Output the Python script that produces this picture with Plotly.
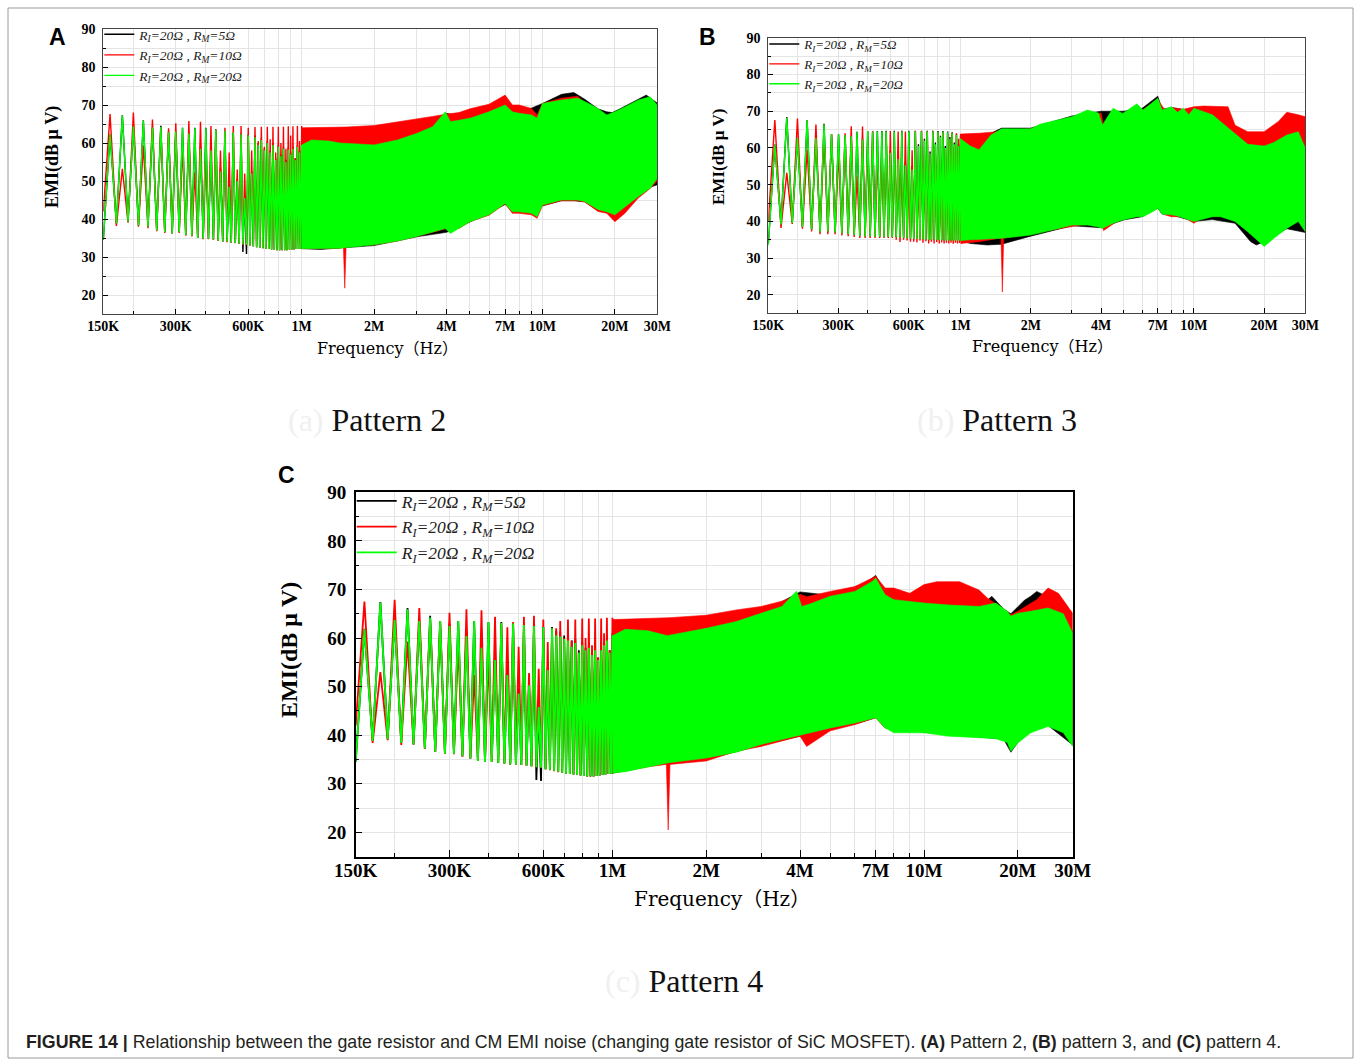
import math
import plotly.graph_objects as go

W, H = 1356, 1062

# ---------------- data (frequencies in kHz / Hz, levels in dBuV) ----------------
X_TICK_VALS = [150e3, 300e3, 600e3, 1e6, 2e6, 4e6, 7e6, 10e6, 20e6, 30e6]
X_TICK_TEXT = ["150K", "300K", "600K", "1M", "2M", "4M", "7M", "10M", "20M", "30M"]
X_MINOR = [200e3, 400e3, 500e3, 700e3, 800e3, 900e3, 3e6, 5e6, 6e6, 8e6, 9e6]
Y_TICKS = [20, 30, 40, 50, 60, 70, 80, 90]
Y_MINOR = [25, 35, 45, 55, 65, 75, 85]

SERIES_NAMES = ["R<sub>I</sub>=20Ω , R<sub>M</sub>=5Ω",
                "R<sub>I</sub>=20Ω , R<sub>M</sub>=10Ω",
                "R<sub>I</sub>=20Ω , R<sub>M</sub>=20Ω"]
SERIES_COLORS = ["#000000", "#ff0000", "#00ff00"]

# resolvable low-frequency harmonics (kHz): peaks and the troughs between them
PEAK_KHZ = [160, 180, 200, 220, 240, 260, 280, 300, 320, 340, 360, 380, 400, 420, 440,
            460, 480, 500, 520, 540, 560, 580, 600, 620, 640, 660, 680, 700, 720, 740,
            760, 780, 800, 820, 840, 860, 880, 900, 920, 940, 960, 980, 1000]
TROUGH_KHZ = [170, 190, 210, 230, 250, 270, 290, 310, 330, 350, 370, 390, 410, 430, 450,
              470, 490, 510, 530, 550, 570, 590, 610, 630, 650, 670, 690, 710, 730, 750,
              770, 790, 810, 830, 850, 870, 890, 910, 930, 950, 970, 990, 1010]

# ---- Pattern 2 (A) ----
A_K_START, A_R_START, A_G_START = 34.5, 42.0, 34.5
A_K_PEAK = [62.3, 67.3, 64.3, 66.0, 64.1, 64.5, 63.0, 63.0, 64.0, 62.8, 64.0, 59.0, 64.0, 58.5, 63.6,
            53.5, 63.2, 49.5, 62.8, 50.5, 62.5, 46.0, 62.3,
            52.5, 62.0, 60.0, 61.3, 58.5, 60.5, 58.0, 60.0, 56.0, 59.5, 57.0, 59.0, 55.5, 58.8,
            57.5, 59.0, 56.0, 59.5, 58.0, 60.0]
A_R_PEAK = [67.6, 53.2, 68.0, 59.3, 66.2, 64.0, 63.9, 65.2, 59.0, 65.8, 52.3, 65.6, 57.0, 64.5, 63.5,
            58.0, 64.0, 57.5, 64.5, 53.0, 64.5, 52.0, 64.0,
            58.0, 64.2, 60.5, 64.3, 59.0, 64.3, 61.0, 64.3, 57.5, 64.3, 60.0, 64.3, 58.5, 64.4,
            62.0, 64.4, 56.0, 64.5, 60.5, 64.5]
A_G_PEAK = [62.3, 67.2, 64.3, 65.9, 64.1, 64.2, 62.8, 63.0, 64.0, 62.5, 63.9, 58.5, 63.9, 58.0, 63.5,
            52.5, 63.2, 48.5, 62.8, 50.0, 62.3, 45.5, 62.0,
            52.0, 61.5, 59.5, 60.8, 58.0, 60.0, 57.5, 59.5, 55.5, 59.0, 56.5, 58.5, 55.0, 58.2,
            57.0, 58.5, 55.5, 59.0, 57.5, 59.5]
A_K_TROUGH = [38.8, 39.3, 38.3, 38.0, 37.0, 36.5, 36.2, 36.5, 35.8, 35.5, 35.0, 34.8, 34.8, 34.6, 34.3,
              34.0, 34.0, 33.8, 33.7, 33.5, 31.3, 30.8, 33.0,
              32.8, 32.6, 32.4, 32.3, 32.2, 32.1, 32.0, 31.9, 31.8, 31.8, 31.8, 31.8, 31.8, 31.9,
              32.0, 32.0, 32.1, 32.1, 32.2, 32.2]
A_R_TROUGH = [38.2, 39.0, 38.0, 37.6, 36.8, 36.3, 36.2, 36.3, 35.6, 35.4, 35.0, 34.7, 34.7, 34.5, 34.2,
              34.0, 33.9, 33.7, 33.6, 33.4, 33.2, 33.1, 33.0,
              32.8, 32.6, 32.4, 32.3, 32.2, 32.1, 32.0, 31.9, 31.8, 31.8, 31.8, 31.8, 31.8, 31.9,
              32.0, 32.0, 32.1, 32.1, 32.2, 32.2]
A_G_TROUGH = [38.8, 39.3, 38.3, 38.0, 37.0, 36.5, 36.2, 36.5, 35.8, 35.5, 35.0, 34.8, 34.8, 34.6, 34.3,
              34.0, 34.0, 33.8, 33.7, 33.5, 33.3, 33.2, 33.0,
              32.8, 32.6, 32.4, 32.3, 32.2, 32.1, 32.0, 31.9, 31.8, 31.8, 31.8, 31.8, 31.8, 31.9,
              32.0, 32.0, 32.1, 32.1, 32.2, 32.2]
# dense region (above 1 MHz): upper and lower envelopes
A_K_F = [1e6, 1.2e6, 1.44e6, 2e6, 3e6, 4e6, 5e6, 7e6, 8e6, 10e6, 12e6, 13.5e6, 15e6, 17e6, 18.5e6,
         19.5e6, 21e6, 25e6, 27e6, 30e6]
A_K_UP = [60.0, 61.0, 61.5, 59.5, 62.5, 67.8, 66.5, 70.5, 67.8, 70.4, 72.8, 73.3, 71.5, 69.0, 68.2,
          68.0, 69.0, 71.6, 72.6, 70.5]
A_K_LO = [32.2, 32.0, 32.3, 33.0, 35.3, 36.5, 39.2, 43.8, 41.8, 43.5, 44.8, 44.8, 44.5, 42.3, 41.8,
          41.0, 43.0, 45.8, 48.0, 49.0]
A_R_F = [1e6, 1.44e6, 1.49e6, 1.51e6, 1.53e6, 2e6, 2.5e6, 3e6, 3.5e6, 4e6, 4.5e6, 5e6, 6e6, 7e6,
         7.5e6, 8e6, 9e6, 9.5e6, 10e6, 12e6, 14e6, 15e6, 17e6, 18.5e6, 20e6, 22e6, 25e6, 28e6, 30e6]
A_R_UP = [64.0, 64.2, 64.2, 64.2, 64.2, 64.6, 65.5, 66.2, 67.0, 67.6, 68.0, 69.0, 70.2, 72.6,
          70.0, 70.0, 69.1, 67.4, 70.4, 71.8, 72.3, 70.5, 68.8, 67.0, 67.8, 69.0, 71.0, 71.8, 69.5]
A_R_LO = [32.2, 32.3, 33.0, 21.8, 33.0, 33.2, 34.2, 35.4, 36.5, 37.5, 37.5, 39.3, 41.0, 44.0,
          41.5, 41.5, 41.1, 40.2, 43.5, 44.8, 44.8, 44.5, 42.0, 41.5, 39.3, 41.5, 45.5, 48.0, 50.0]
A_G_F = [1e6, 1.1e6, 1.3e6, 1.44e6, 2e6, 2.5e6, 3e6, 3.5e6, 3.95e6, 4.15e6, 5e6, 6e6, 7e6, 7.5e6,
         8e6, 9e6, 9.5e6, 10e6, 12e6, 14e6, 15e6, 17e6, 18.5e6, 20e6, 22e6, 25e6, 28e6, 30e6]
A_G_UP = [59.5, 60.8, 60.5, 60.0, 59.5, 60.8, 62.5, 64.3, 68.2, 65.6, 66.5, 68.2, 70.0, 68.2,
          67.8, 67.4, 66.5, 70.4, 71.3, 71.8, 70.9, 69.1, 67.4, 68.2, 69.5, 71.3, 72.2, 70.0]
A_G_LO = [32.2, 32.2, 32.3, 32.3, 33.2, 34.2, 35.4, 36.5, 37.5, 36.2, 39.3, 41.1, 44.1, 41.9,
          41.9, 41.5, 40.6, 43.7, 45.0, 45.0, 44.6, 42.5, 41.9, 41.1, 43.2, 45.9, 48.1, 50.7]

# ---- Pattern 3 (B) ----
B_K_START, B_R_START, B_G_START = 34.0, 40.0, 33.5
B_K_PEAK = [60.9, 68.4, 62.7, 67.5, 62.7, 66.6, 63.7, 63.7, 63.5, 63.2, 64.4, 62.5, 64.6, 64.5, 64.6,
            64.6, 64.7, 59.4, 64.7, 57.8, 64.7, 56.2, 64.7,
            55.0, 64.7, 61.0, 64.7, 62.5, 64.7, 59.0, 64.7, 61.5, 64.6, 63.3, 64.6, 60.5, 64.5,
            63.0, 64.3, 61.5, 63.8, 61.0, 63.3]
B_R_PEAK = [67.6, 53.2, 68.0, 59.4, 66.4, 63.2, 63.7, 58.9, 64.0, 65.9, 52.3, 65.8, 61.8, 64.6, 59.0,
            59.6, 63.0, 64.6, 60.0, 64.5, 56.0, 64.5, 53.0,
            59.4, 64.6, 52.5, 64.6, 58.0, 64.5, 55.0, 64.5, 60.5, 64.3, 57.0, 64.2, 59.5, 64.0,
            62.0, 64.0, 60.0, 64.0, 62.5, 63.8]
B_G_PEAK = [60.8, 68.2, 62.7, 67.5, 62.7, 66.4, 63.7, 63.7, 63.5, 63.2, 64.4, 62.3, 64.6, 64.4, 64.5,
            64.5, 64.5, 58.7, 64.5, 56.9, 64.5, 55.3, 64.5,
            54.1, 64.5, 60.5, 64.5, 62.0, 64.5, 58.5, 64.5, 61.0, 64.4, 63.0, 64.4, 60.0, 64.3,
            62.5, 64.0, 61.0, 63.5, 60.5, 62.5]
B_K_TROUGH = [39.2, 39.6, 38.5, 37.8, 37.0, 37.3, 37.0, 36.8, 36.5, 36.3, 36.0, 35.9, 35.9, 35.8, 35.8,
              35.8, 35.8, 35.8, 35.7, 35.6, 35.5, 35.4, 35.3,
              35.3, 35.2, 35.2, 35.1, 35.1, 35.0, 35.0, 35.0, 35.0, 34.9, 34.9, 34.8, 34.8, 34.8,
              34.8, 34.8, 34.8, 34.8, 34.8, 34.8]
B_R_TROUGH = [38.2, 39.3, 38.0, 37.3, 36.5, 36.5, 36.5, 36.2, 36.0, 35.8, 35.5, 35.5, 35.5, 35.5, 35.5,
              35.5, 35.5, 35.5, 35.0, 34.4, 35.0, 34.8, 34.5,
              34.5, 34.3, 34.8, 34.2, 34.6, 34.0, 34.5, 34.0, 34.4, 34.0, 34.3, 34.0, 34.2, 34.0,
              34.2, 33.9, 34.2, 34.0, 34.1, 34.0]
B_G_TROUGH = [39.2, 39.6, 38.5, 37.8, 37.0, 37.3, 37.0, 36.8, 36.5, 36.3, 36.0, 35.9, 35.9, 35.8, 35.8,
              35.8, 35.8, 35.8, 35.7, 35.6, 35.5, 35.4, 35.3,
              35.3, 35.2, 35.2, 35.1, 35.1, 35.0, 35.0, 35.0, 35.0, 34.9, 34.9, 34.8, 34.8, 34.8,
              34.8, 34.8, 34.8, 34.8, 34.8, 34.8]
B_K_F = [1e6, 1.1e6, 1.2e6, 1.3e6, 1.5e6, 2e6, 3e6, 4e6, 5e6, 6e6, 7e6, 7.3e6, 8e6, 10e6, 12e6,
         15e6, 16.5e6, 17.5e6, 18.5e6, 20e6, 25e6, 30e6]
B_K_UP = [63.3, 62.5, 61.5, 63.5, 65.4, 65.4, 68.7, 70.0, 70.0, 70.8, 74.1, 70.5, 71.0, 70.0, 68.5,
          65.5, 62.0, 60.0, 59.0, 59.5, 63.5, 59.5]
B_K_LO = [34.8, 34.0, 33.8, 33.6, 33.8, 36.0, 38.8, 38.3, 40.4, 41.3, 43.6, 42.0, 41.8, 40.0, 40.5,
          39.5, 36.5, 34.5, 33.6, 34.5, 38.0, 37.0]
B_R_F = [1e6, 1.2e6, 1.49e6, 1.51e6, 1.53e6, 2e6, 3e6, 4e6, 4.1e6, 5e6, 6e6, 7e6, 7.5e6, 8e6, 9e6,
         10e6, 11e6, 14e6, 15e6, 17e6, 20e6, 23e6, 25e6, 28e6, 30e6]
B_R_UP = [63.8, 64.0, 64.5, 64.5, 64.5, 65.2, 68.0, 69.5, 66.0, 69.4, 70.3, 73.2, 70.3, 71.0, 70.5,
          71.2, 71.4, 71.2, 66.2, 64.4, 64.4, 67.2, 69.7, 69.0, 68.5]
B_R_LO = [34.0, 34.5, 35.5, 20.8, 35.5, 36.8, 38.6, 40.0, 37.5, 41.3, 42.2, 44.5, 41.8, 41.3, 41.3,
          39.5, 41.5, 41.5, 41.0, 39.0, 38.0, 38.5, 39.5, 41.0, 38.5]
B_G_F = [1e6, 1.1e6, 1.2e6, 1.35e6, 1.5e6, 2e6, 2.2e6, 2.6e6, 3e6, 3.5e6, 3.9e6, 4.05e6, 4.5e6,
         4.95e6, 5.7e6, 6.05e6, 6.8e6, 7e6, 7.3e6, 8e6, 8.5e6, 9e6, 9.5e6, 10e6, 12e6, 13e6, 15e6,
         17e6, 20e6, 22e6, 25e6, 28e6, 30e6]
B_G_UP = [62.5, 60.5, 59.5, 63.5, 65.2, 65.2, 66.5, 67.5, 68.5, 70.3, 69.5, 66.2, 70.8, 69.4, 72.0,
          70.3, 72.8, 73.5, 70.3, 71.2, 69.7, 70.8, 69.0, 70.8, 69.0, 67.2, 64.0, 61.0, 60.5, 61.5,
          63.5, 64.4, 59.9]
B_G_LO = [34.8, 35.0, 35.2, 35.3, 35.4, 36.3, 37.0, 38.0, 39.0, 39.0, 38.5, 38.1, 39.5, 40.4, 41.3,
          41.3, 43.0, 43.6, 42.0, 41.8, 41.5, 40.9, 40.5, 40.0, 41.3, 41.3, 40.0, 37.2, 33.2, 35.4,
          38.1, 40.0, 37.2]

# ---- Pattern 4 (C) ----
C_K_START, C_R_START, C_G_START = 34.5, 42.0, 34.5
C_K_PEAK = [61.9, 67.4, 63.8, 66.2, 63.5, 64.6, 63.5, 63.0, 63.5, 61.3, 63.5, 59.0, 63.3, 56.5, 63.3,
            53.7, 63.0, 49.6, 62.7, 50.5, 62.5, 45.8, 62.3,
            54.0, 62.3, 61.5, 61.3, 60.5, 60.3, 59.5, 59.8, 57.5, 59.2, 58.0, 58.5, 57.0, 58.2,
            56.0, 58.0, 59.0, 60.5, 57.5, 61.0]
C_R_PEAK = [67.5, 53.0, 67.9, 59.3, 66.2, 63.8, 63.5, 65.2, 58.9, 65.9, 52.4, 65.7, 56.5, 64.4, 62.8,
            62.2, 63.3, 58.2, 64.4, 52.8, 64.6, 53.7, 63.8,
            59.2, 62.0, 62.0, 63.5, 60.0, 63.8, 59.5, 63.8, 57.0, 64.0, 60.0, 64.0, 58.5, 64.0,
            56.0, 64.0, 61.0, 64.2, 57.5, 64.2]
C_G_PEAK = [61.8, 67.3, 63.7, 65.9, 63.5, 64.2, 63.5, 62.5, 63.5, 60.4, 63.5, 58.0, 63.3, 55.5, 63.1,
            52.4, 63.0, 48.6, 62.7, 50.3, 62.5, 45.8, 62.3,
            53.4, 62.0, 60.6, 60.3, 59.8, 59.5, 58.2, 59.0, 57.0, 58.5, 57.5, 58.0, 56.5, 57.5,
            55.5, 57.5, 58.5, 59.5, 57.0, 60.5]
C_K_TROUGH = [38.8, 39.2, 38.4, 38.1, 37.3, 36.6, 36.2, 36.2, 35.7, 35.2, 34.7, 34.5, 34.5, 34.3, 34.2,
              34.0, 34.0, 33.9, 33.8, 33.6, 30.8, 30.6, 33.0,
              32.9, 32.7, 32.5, 32.3, 32.1, 32.0, 31.9, 31.8, 31.7, 31.6, 31.5, 31.5, 31.5, 31.6,
              31.7, 31.8, 31.9, 32.0, 32.1, 32.2]
C_R_TROUGH = [38.4, 39.0, 38.0, 38.1, 37.2, 36.6, 36.2, 36.1, 35.6, 35.2, 34.7, 34.5, 34.5, 34.3, 34.2,
              34.0, 34.0, 33.9, 33.8, 33.6, 33.4, 33.3, 33.0,
              32.8, 32.6, 32.4, 32.3, 32.1, 32.0, 31.9, 31.8, 31.7, 31.6, 31.5, 31.5, 31.5, 31.6,
              31.7, 31.8, 31.9, 32.0, 32.1, 32.2]
C_G_TROUGH = [38.8, 39.2, 38.4, 38.1, 37.3, 36.6, 36.2, 36.2, 35.7, 35.2, 34.7, 34.5, 34.5, 34.3, 34.2,
              34.0, 34.0, 33.9, 33.8, 33.6, 33.4, 33.3, 33.0,
              32.9, 32.7, 32.5, 32.3, 32.1, 32.0, 31.9, 31.8, 31.7, 31.6, 31.5, 31.5, 31.5, 31.6,
              31.7, 31.8, 31.9, 32.0, 32.1, 32.2]
C_K_F = [1e6, 1.2e6, 1.5e6, 2e6, 3e6, 4e6, 5e6, 6e6, 7e6, 7.5e6, 10e6, 13e6, 15e6, 16.5e6, 18e6,
         19e6, 20e6, 21e6, 22e6, 23e6, 24e6, 25e6, 30e6]
C_K_UP = [61.0, 61.2, 61.0, 62.3, 65.2, 69.5, 68.8, 69.8, 72.9, 69.2, 66.8, 66.5, 66.3, 68.6, 66.0,
          65.0, 66.5, 67.8, 68.6, 69.6, 69.0, 67.0, 61.5]
C_K_LO = [32.2, 33.2, 34.5, 35.0, 38.0, 39.8, 41.3, 42.3, 43.6, 41.6, 40.6, 40.0, 39.6, 39.4, 39.2,
          36.5, 38.5, 40.0, 40.6, 41.5, 42.0, 42.0, 38.0]
C_R_F = [1e6, 1.3e6, 1.49e6, 1.51e6, 1.53e6, 2e6, 2.5e6, 3e6, 3.5e6, 4e6, 4.2e6, 5e6, 6e6, 7e6, 7.5e6,
         8e6, 9e6, 10e6, 11e6, 13e6, 15e6, 16e6, 18e6, 19e6, 20e6, 23e6, 25e6, 27e6, 30e6]
C_R_UP = [63.8, 64.0, 64.2, 64.2, 64.2, 64.7, 65.8, 66.5, 67.6, 69.0, 68.5, 69.6, 70.6, 72.7, 70.3,
          70.3, 69.2, 71.0, 71.6, 71.6, 69.9, 68.2, 65.8, 64.8, 65.5, 67.9, 70.3, 69.2, 65.1]
C_R_LO = [32.2, 33.5, 34.0, 20.5, 34.0, 34.7, 36.7, 37.7, 38.8, 39.8, 37.7, 40.9, 42.2, 43.6, 41.5,
          41.2, 41.2, 41.5, 42.0, 42.0, 42.0, 42.0, 41.0, 40.0, 40.0, 42.0, 43.0, 42.0, 40.0]
C_G_F = [1e6, 1.1e6, 1.3e6, 1.5e6, 2e6, 2.5e6, 3e6, 3.5e6, 3.9e6, 4.05e6, 4.3e6, 5e6, 6e6, 6.8e6,
         7e6, 7.5e6, 8e6, 10e6, 12e6, 15e6, 17e6, 18.5e6, 19e6, 20e6, 22e6, 25e6, 28e6, 30e6]
C_G_UP = [60.5, 61.8, 61.5, 60.5, 62.0, 63.4, 65.1, 66.5, 69.7, 66.5, 67.0, 68.6, 69.6, 71.6, 72.3,
          68.9, 67.9, 67.2, 66.8, 66.5, 67.2, 65.5, 64.5, 65.1, 65.5, 66.2, 65.0, 61.0]
C_G_LO = [32.2, 32.5, 33.5, 34.3, 35.3, 36.5, 38.1, 39.0, 39.8, 40.0, 40.5, 41.5, 42.5, 43.4, 43.6,
          41.5, 40.5, 40.5, 39.8, 39.5, 39.3, 38.5, 36.7, 38.4, 40.5, 41.8, 40.5, 37.7]

PANELS = [
    dict(key="A", ax="", box=(103.3, 657.3, 29, 314), lw=1.4, tick=14, legend_font=13.5,
         xstand=-1, leg_top=19,
         start=[A_K_START, A_R_START, A_G_START], peak=[A_K_PEAK, A_R_PEAK, A_G_PEAK],
         trough=[A_K_TROUGH, A_R_TROUGH, A_G_TROUGH],
         band=[(A_K_F, A_K_UP, A_K_LO), (A_R_F, A_R_UP, A_R_LO), (A_G_F, A_G_UP, A_G_LO)]),
    dict(key="B", ax="2", box=(768.3, 1305.3, 37.7, 313.3), lw=1.4, tick=14, legend_font=13,
         xstand=-1, leg_top=29,
         start=[B_K_START, B_R_START, B_G_START], peak=[B_K_PEAK, B_R_PEAK, B_G_PEAK],
         trough=[B_K_TROUGH, B_R_TROUGH, B_G_TROUGH],
         band=[(B_K_F, B_K_UP, B_K_LO), (B_R_F, B_R_UP, B_R_LO), (B_G_F, B_G_UP, B_G_LO)]),
    dict(key="C", ax="3", box=(355.7, 1072.7, 492.3, 856.7), lw=1.8, tick=19, legend_font=17.5,
         xstand=-4, leg_top=483,
         start=[C_K_START, C_R_START, C_G_START], peak=[C_K_PEAK, C_R_PEAK, C_G_PEAK],
         trough=[C_K_TROUGH, C_R_TROUGH, C_G_TROUGH],
         band=[(C_K_F, C_K_UP, C_K_LO), (C_R_F, C_R_UP, C_R_LO), (C_G_F, C_G_UP, C_G_LO)]),
]


def px(x):
    return x / W


def py(y):
    return 1 - y / H


fig = go.Figure()
GRID = "#e4e4e4"
SERIF = "Liberation Serif"

for p in PANELS:
    xa, ya = "x" + p["ax"], "y" + p["ax"]
    legend_id = "legend" + p["ax"]
    for i in range(3):
        f, up, lo = p["band"][i]
        fig.add_trace(go.Scatter(
            x=list(f) + list(f)[::-1], y=list(up) + list(lo)[::-1],
            mode="lines", fill="toself", fillcolor=SERIES_COLORS[i],
            line=dict(color=SERIES_COLORS[i], width=0.6),
            xaxis=xa, yaxis=ya, showlegend=False, hoverinfo="skip"))
        zx = [150e3]
        zy = [p["start"][i]]
        for fk, pv, fk2, tv in zip(PEAK_KHZ, p["peak"][i], TROUGH_KHZ, p["trough"][i]):
            zx += [fk * 1e3, fk2 * 1e3]
            zy += [pv, tv]
        fig.add_trace(go.Scatter(
            x=zx, y=zy, mode="lines", name=SERIES_NAMES[i],
            line=dict(color=SERIES_COLORS[i], width=p["lw"]),
            xaxis=xa, yaxis=ya, legend=legend_id, hoverinfo="skip"))

layout = dict(width=W, height=H, margin=dict(l=0, r=0, t=0, b=0, pad=0, autoexpand=False),
              paper_bgcolor="white", plot_bgcolor="white", hovermode=False)

for p in PANELS:
    x0, x1, y0, y1 = p["box"]
    big = p["key"] == "C"
    tl = 7 if big else 5
    frame = "#000000" if big else "#444444"
    layout["xaxis" + p["ax"]] = dict(
        type="log", domain=[px(x0), px(x1)], anchor="y" + p["ax"], automargin=False,
        range=[math.log10(150e3), math.log10(30e6)],
        tickmode="array", tickvals=X_TICK_VALS, ticktext=X_TICK_TEXT,
        ticks="inside", ticklen=tl, tickwidth=1.2, tickcolor="#000",
        showline=True, linecolor=frame, linewidth=1.5 if big else 1.2, mirror=True,
        showgrid=True, gridcolor=GRID, gridwidth=1, zeroline=False,
        minor=dict(tickvals=X_MINOR, ticks="inside", ticklen=tl * 0.55, tickcolor="#000",
                   showgrid=True, gridcolor=GRID, gridwidth=1),
        tickfont=dict(family=SERIF, size=p["tick"], color="#000", weight="bold"),
        ticklabelstandoff=p["xstand"])
    layout["yaxis" + p["ax"]] = dict(
        domain=[py(y1), py(y0)], anchor="x" + p["ax"], range=[15, 90], automargin=False,
        tickmode="array", tickvals=Y_TICKS,
        ticks="inside", ticklen=tl, tickwidth=1.2, tickcolor="#000",
        showline=True, linecolor=frame, linewidth=1.5 if big else 1.2, mirror=True,
        showgrid=True, gridcolor=GRID, gridwidth=1, zeroline=False,
        minor=dict(tickvals=Y_MINOR, ticks="inside", ticklen=tl * 0.55, tickcolor="#000",
                   showgrid=True, gridcolor=GRID, gridwidth=1),
        tickfont=dict(family=SERIF, size=p["tick"], color="#000", weight="bold"),
        ticklabelstandoff=4)
    legend_id = "legend" + p["ax"]
    layout[legend_id] = dict(
        x=px(x0 - 4), y=py(p["leg_top"]), xanchor="left", yanchor="top",
        bgcolor="rgba(0,0,0,0)", borderwidth=0,
        font=dict(family=SERIF, size=p["legend_font"], color="#222", style="italic"),
        tracegroupgap=0, itemwidth=30 if not big else 40)

fig.update_layout(**layout)


def note(text, x, y, font, **kw):
    d = dict(text=text, x=px(x), y=py(y), xref="paper", yref="paper", showarrow=False,
             xanchor="center", yanchor="middle", font=font)
    d.update(kw)
    return d


ann = []
# panel letters
for t, x, y in [("A", 57, 37), ("B", 707, 37), ("C", 286, 475)]:
    ann.append(note("<b>%s</b>" % t, x, y, dict(family="Liberation Sans", size=23, color="#000")))
# y titles
for x, y, s in [(52, 157, 18), (718, 157, 17), (289, 650, 24)]:
    ann.append(note("<b>EMI(dB μ V)</b>", x, y, dict(family=SERIF, size=s, color="#000"),
                    textangle=-90))
# x titles
for x, y, s in [(387, 348, 16), (1042, 346, 16), (722, 899, 20)]:
    ann.append(note("Frequency（Hz）", x, y,
                    dict(family="DejaVu Serif, Noto Sans CJK SC", size=s, color="#000")))
# sub captions
for lab, txt, x, y in [("(a)", "Pattern 2", 367, 420), ("(b)", "Pattern 3", 997, 420),
                       ("(c)", "Pattern 4", 684, 981)]:
    ann.append(note("<span style='color:#f0f0f0'>%s</span> %s" % (lab, txt), x, y,
                    dict(family=SERIF, size=32, color="#111")))
# figure caption
ann.append(note(
    "<b>FIGURE 14 |</b> Relationship between the gate resistor and CM EMI noise (changing gate "
    "resistor of SiC MOSFET). <b>(A)</b> Pattern 2, <b>(B)</b> pattern 3, and <b>(C)</b> pattern 4.",
    24, 1042, dict(family="Liberation Sans", size=17.8, color="#231f20"), xanchor="left"))

fig.update_layout(annotations=ann, shapes=[dict(
    type="rect", xref="paper", yref="paper", x0=px(8), x1=px(1353), y0=py(1058), y1=py(8),
    line=dict(color="#9a9a9a", width=1))])

fig.write_html("out.html")
